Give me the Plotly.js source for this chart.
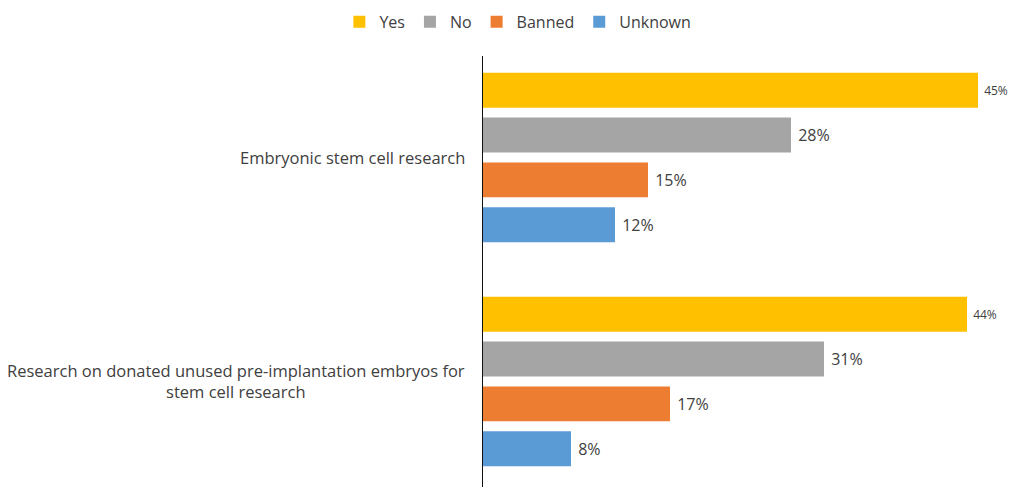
<!DOCTYPE html>
<html>
<head>
<meta charset="utf-8">
<script src="https://cdn.plot.ly/plotly-3.0.1.min.js"></script>
<style>
  html, body { margin: 0; padding: 0; background: #fff; }
  #chart { width: 1013px; height: 487px; }
</style>
</head>
<body>
<div id="chart"></div>
<script>
// Stem cell research regulation survey, share of countries by status
const categories = [
  'Embryonic stem cell research',
  'Research on donated unused pre-implantation embryos for<br>stem cell research'
];
const yesValues = [45, 44];
const noValues = [28, 31];
const bannedValues = [15, 17];
const unknownValues = [12, 8];

const seriesNames = ['Yes', 'No', 'Banned', 'Unknown'];
const seriesColors = ['#FFC000', '#A5A5A5', '#ED7D31', '#5B9BD5'];
const seriesValues = [yesValues, noValues, bannedValues, unknownValues];
const labelSizes = [12, 16, 16, 16];

const FONT = '"Open Sans", Lato, sans-serif';
const TEXT_COLOR = '#404040';

const traces = seriesNames.map((name, i) => ({
  type: 'bar',
  orientation: 'h',
  name: name,
  y: categories,
  x: seriesValues[i],
  marker: { color: seriesColors[i] },
  texttemplate: '\u00a0%{x}%',
  textposition: 'outside',
  cliponaxis: false,
  textfont: { family: FONT, size: labelSizes[i], color: TEXT_COLOR },
  hoverinfo: 'none'
}));

// Category names sit left of the axis line, centred line by line
const annotations = categories.map(c => ({
  text: c,
  xref: 'paper', yref: 'y',
  x: 0, y: c,
  xanchor: 'right', yanchor: 'middle',
  xshift: -16,
  align: 'center',
  showarrow: false,
  font: { family: FONT, size: 16.5, color: TEXT_COLOR }
}));

const layout = {
  width: 1013,
  height: 487,
  margin: { l: 483, r: 2, t: 56, b: 0 },
  paper_bgcolor: '#ffffff',
  plot_bgcolor: '#ffffff',
  barmode: 'group',
  bargap: 0.2,
  bargroupgap: 0.22,
  font: { family: FONT, size: 16, color: TEXT_COLOR },
  showlegend: true,
  legend: {
    orientation: 'h',
    x: -0.272, xanchor: 'left',
    y: 1.079, yanchor: 'middle',
    font: { family: FONT, size: 16, color: TEXT_COLOR },
    traceorder: 'normal'
  },
  xaxis: {
    range: [0, 48],
    showgrid: false,
    zeroline: false,
    showticklabels: false,
    showline: false,
    ticks: ''
  },
  yaxis: {
    type: 'category',
    range: [1.471, -0.453],
    showgrid: false,
    zeroline: false,
    showline: true,
    linecolor: '#111111',
    linewidth: 1.5,
    showticklabels: false,
    ticks: ''
  },
  annotations: annotations
};

Plotly.newPlot('chart', traces, layout, { displayModeBar: false, staticPlot: true });
</script>
</body>
</html>
